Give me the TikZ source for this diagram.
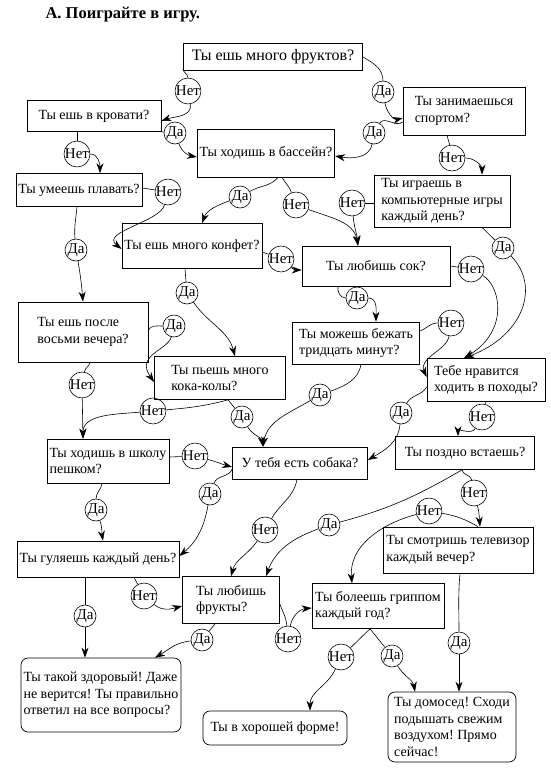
\documentclass[tikz,border=0pt]{standalone}
\usepackage{fontspec}
\setmainfont{Liberation Serif}
\usetikzlibrary{arrows.meta}
\begin{document}
\frenchspacing
\begin{tikzpicture}[x=1pt,y=1pt,
  box/.style={draw, line width=0.7pt, inner sep=2.5pt, font=\fontsize{14}{16.5}\selectfont, align=center},
  lbox/.style={box, align=left},
  rbox/.style={box, rounded corners=7pt, align=left},
  lab/.style={draw, circle, line width=0.6pt, inner sep=0pt, minimum size=22pt, font=\fontsize{15}{15}\selectfont},
  ln/.style={line width=0.6pt},
  arr/.style={ln, -{Stealth[length=10pt,width=7pt]}},
]
\useasboundingbox (0,0) rectangle (550,-774);
\node[font=\bfseries\fontsize{16.5}{19}\selectfont, anchor=west] (T) at (42,-15) {А. Поиграйте в игру.};

% boxes
\node[box, minimum width=179pt, minimum height=27pt, font=\fontsize{16}{18}\selectfont] (F) at (273,-57) {Ты ешь много фруктов?};
\node[box, minimum width=134pt, minimum height=31pt] (K) at (94,-116) {Ты ешь в кровати?};
\node[lbox, minimum width=122pt, minimum height=48pt] (S) at (464,-111) {Ты занимаешься\\спортом?};
\node[box, minimum width=132pt, minimum height=48pt] (B) at (266,-153) {Ты ходишь в бассейн?};
\node[box, minimum width=122pt, minimum height=33pt] (P) at (79,-190) {Ты умеешь плавать?};
\node[lbox, minimum width=136pt, minimum height=52pt] (C) at (442,-201) {Ты играешь в\\компьютерные игры\\каждый день?};
\node[box, minimum width=137pt, minimum height=45pt] (KO) at (192,-246) {Ты ешь много конфет?};
\node[box, minimum width=148pt, minimum height=40pt] (SOK) at (376,-266) {Ты любишь сок?};
\node[lbox, minimum width=130pt, minimum height=60pt] (V) at (83,-332) {Ты ешь после\\восьми вечера?};
\node[lbox, minimum width=127pt, minimum height=42pt] (R) at (356,-343) {Ты можешь бежать\\тридцать минут?};
\node[lbox, minimum width=131pt, minimum height=43pt] (KK) at (220,-378) {Ты пьешь много\\кока-колы?};
\node[lbox, minimum width=118pt, minimum height=43pt] (H) at (486,-380) {Тебе нравится\\ходить в походы?};
\node[lbox, minimum width=115pt, minimum height=44pt] (SH) at (108,-461) {Ты ходишь в школу\\пешком?};
\node[box, minimum width=135pt, minimum height=32pt] (SB) at (300,-463) {У тебя есть собака?};
\node[box, minimum width=139pt, minimum height=33pt] (PZ) at (465,-453) {Ты поздно встаешь?};
\node[box, minimum width=162pt, minimum height=36pt] (GU) at (98,-559) {Ты гуляешь каждый день?};
\node[lbox, minimum width=150pt, minimum height=46pt] (TV) at (458,-550) {Ты смотришь телевизор\\каждый вечер?};
\node[lbox, minimum width=97pt, minimum height=47pt] (FR) at (231,-600) {Ты любишь\\фрукты?};
\node[lbox, minimum width=132pt, minimum height=45pt] (GR) at (378,-606) {Ты болеешь гриппом\\каждый год?};
\node[rbox, minimum width=158pt, minimum height=74pt] (E1) at (101,-695) {Ты такой здоровый! Даже\\не верится! Ты правильно\\ответил на все вопросы?};
\node[rbox, minimum width=144pt, minimum height=34pt] (E2) at (275,-728) {Ты в хорошей форме!};
\node[rbox, minimum width=128pt, minimum height=70pt] (E3) at (452,-727) {Ты домосед! Сходи\\подышать свежим\\воздухом! Прямо\\сейчас!};

% labels
\node[lab] (n1) at (188,-91) {Нет};
\node[lab] (d1) at (383,-92) {Да};
\node[lab] (d2) at (175,-133) {Да};
\node[lab] (d3) at (374,-133) {Да};
\node[lab] (n2) at (77,-154) {Нет};
\node[lab] (n3) at (452,-158) {Нет};
\node[lab] (n4) at (168,-192) {Нет};
\node[lab] (d4) at (240,-197) {Да};
\node[lab] (n5) at (296,-205) {Нет};
\node[lab] (n6) at (352,-203) {Нет};
\node[lab] (d5) at (76,-250) {Да};
\node[lab] (d6) at (503,-248) {Да};
\node[lab] (n7) at (281,-259) {Нет};
\node[lab] (n8) at (471,-269) {Нет};
\node[lab] (d7) at (187,-293) {Да};
\node[lab] (d8) at (357,-298) {Да};
\node[lab] (n9) at (451,-323) {Нет};
\node[lab] (d9) at (174,-326) {Да};
\node[lab] (n10) at (82,-385) {Нет};
\node[lab] (d10) at (320,-395) {Да};
\node[lab] (n11) at (153,-411) {Нет};
\node[lab] (d11) at (242,-417) {Да};
\node[lab] (d12) at (401,-413) {Да};
\node[lab] (n12) at (482,-417) {Нет};
\node[lab] (n13) at (195,-456) {Нет};
\node[lab] (d13) at (210,-494) {Да};
\node[lab] (n14) at (474,-493) {Нет};
\node[lab] (d14) at (96,-510) {Да};
\node[lab] (n15) at (429,-511) {Нет};
\node[lab] (d15) at (329,-525) {Да};
\node[lab] (n16) at (265,-530) {Нет};
\node[lab] (n17) at (144,-596) {Нет};
\node[lab] (d16) at (85,-616) {Да};
\node[lab] (d17) at (202,-640) {Да};
\node[lab] (n18) at (288,-639) {Нет};
\node[lab] (d18) at (459,-643) {Да};
\node[lab] (n19) at (341,-657) {Нет};
\node[lab] (d19) at (392,-656) {Да};

% edges
\draw[ln] ([yshift=3pt]F.south west) to[out=-110,in=90] (n1);
\draw[arr] (n1) to[out=-80,in=20] ([yshift=-5pt]K.east);
\draw[ln] (F.east) to[out=-30,in=90] (d1);
\draw[arr] (d1) to[out=-80,in=195] ([yshift=-7pt]S.west);
\draw[ln] (K.south east) -- (d2);
\draw[arr] (d2) to[out=-70,in=170] ([yshift=-4pt]B.west);
\draw[ln] ([yshift=-11pt]S.west) to[out=-140,in=60] (d3);
\draw[arr] (d3) to[out=-100,in=-10] ([yshift=-3pt]B.east);
\draw[ln] ([xshift=-17pt]K.south) -- (n2);
\draw[arr] (n2) to[out=0,in=90] ([xshift=21pt]P.north);
\draw[ln] ([xshift=-17pt]S.south) to[out=-80,in=100] (n3);
\draw[arr] (n3) to[out=0,in=90] ([xshift=40pt]C.north);
\draw[ln] ([yshift=2pt]P.east) -- (n4);
\draw[arr] (n4) .. controls (160,-222) and (100,-232) .. ([yshift=-3pt]KO.west);
\draw[ln] ([xshift=-2pt]P.south) to[out=-95,in=95] (d5);
\draw[arr] (d5) to[out=-80,in=95] (V.north);
\draw[ln] ([xshift=12pt]B.south) to[out=-130,in=30] (d4);
\draw[arr] (d4) to[out=-160,in=70] ([xshift=10pt]KO.north);
\draw[ln] ([xshift=16pt]B.south) to[out=-60,in=110] (n5);
\draw[arr] (n5) to[out=-20,in=100] ([xshift=-18pt]SOK.north);
\draw[ln] ([yshift=-2pt]C.west) -- (n6);
\draw[arr] (n6) to[out=-85,in=95] ([xshift=-18pt]SOK.north);
\draw[ln] ([yshift=-6pt]KO.east) -- (n7);
\draw[arr] (n7) to[out=-40,in=180] ([yshift=-4pt]SOK.west);
\draw[ln] ([xshift=-7pt]KO.south) to[out=-85,in=95] (d7);
\draw[arr] (d7) to[out=-55,in=105] ([xshift=15pt]KK.north);
\draw[ln] ([xshift=-38pt]SOK.south) to[out=-100,in=180] (d8);
\draw[arr] (d8) to[out=0,in=90] ([xshift=20pt]R.north);
\draw[ln] (SOK.east) -- (n8);
\draw[arr] (n8) .. controls (500,-285) and (510,-330) .. ([xshift=-22pt]H.north);
\draw[ln] ([xshift=40pt]C.south) -- (d6);
\draw[arr] (d6) .. controls (540,-285) and (525,-335) .. ([xshift=-22pt]H.north);
\draw[ln] ([yshift=12pt]R.east) to[out=20,in=180] (n9);
\draw[arr] (n9) .. controls (447,-350) and (418,-358) .. ([yshift=3pt]H.west);
\draw[ln] ([yshift=2pt]V.east) to[out=60,in=180] (d9);
\draw[arr] (d9) .. controls (168,-350) and (135,-355) .. ([yshift=-4pt]KK.west);
\draw[ln] ([xshift=7pt]V.south) to[out=-100,in=80] (n10);
\draw[arr] (n10) -- ([xshift=-25pt]SH.north);
\draw[ln] ([xshift=8pt]KK.south) to[out=-165,in=5] (n11);
\draw[arr] (n11) to[out=185,in=90] ([xshift=-25pt]SH.north);
\draw[ln] ([xshift=8pt]KK.south) -- (d11);
\draw[arr] (d11) to[out=-60,in=100] ([xshift=-37pt]SB.north);
\draw[ln] ([xshift=5pt]R.south) to[out=-100,in=20] (d10);
\draw[arr] (d10) to[out=210,in=80] ([xshift=-37pt]SB.north);
\draw[ln] ([yshift=-7pt]H.west) to[out=-120,in=60] (d12);
\draw[arr] (d12) to[out=-95,in=30] ([yshift=3pt]SB.east);
\draw[ln] (H.south) -- (n12);
\draw[arr] (n12) to[out=-120,in=90] ([xshift=-7pt]PZ.north);
\draw[ln] ([yshift=4pt]SH.east) -- (n13);
\draw[arr] (n13) to[out=-15,in=165] ([yshift=-4pt]SB.west);
\draw[ln] ([yshift=-6pt]SB.west) to[out=-110,in=70] (d13);
\draw[arr] (d13) to[out=-100,in=40] ([yshift=3pt]GU.east);
\draw[ln] ([xshift=-6pt]SH.south) to[out=-95,in=90] (d14);
\draw[arr] (d14) to[out=-70,in=100] ([xshift=5pt]GU.north);
\draw[ln] ([xshift=-3pt]SB.south) to[out=-100,in=60] (n16);
\draw[arr] (n16) to[out=-125,in=75] (FR.north);
\draw[ln] ([xshift=-3pt]PZ.south) to[out=-150,in=15] (d15);
\draw[arr] (d15) to[out=200,in=70] ([xshift=35pt]FR.north);
\draw[ln] ([xshift=-3pt]PZ.south) to[out=-85,in=100] (n14);
\draw[arr] (n14) to[out=-75,in=95] ([xshift=22pt]TV.north);
\draw[ln] ([xshift=20pt]TV.north) to[out=150,in=-10] (n15);
\draw[arr] (n15) to[out=195,in=95] ([xshift=-26pt]GR.north);
\draw[ln] ([xshift=-13pt]GU.south) -- (d16);
\draw[arr] (d16) -- ([xshift=-16pt]E1.north);
\draw[ln] ([xshift=36pt]GU.south) -- (n17);
\draw[arr] (n17) to[out=-40,in=195] ([yshift=-6pt]FR.west);
\draw[ln] ([xshift=-16pt]FR.south) -- (d17);
\draw[arr] (d17) to[out=185,in=30] ([xshift=54pt]E1.north);
\draw[ln] ([yshift=-4pt]FR.east) to[out=-70,in=95] (n18);
\draw[arr] (n18) to[out=80,in=185] ([yshift=-2pt]GR.west);
\draw[ln] ([xshift=-8pt]GR.south) -- (n19);
\draw[arr] (n19) to[out=-115,in=90] ([xshift=35pt]E2.north);
\draw[ln] ([xshift=-8pt]GR.south) -- (d19);
\draw[arr] (d19) to[out=-60,in=100] ([xshift=-37pt]E3.north);
\draw[ln] ([xshift=2pt]TV.south) to[out=-95,in=90] (d18);
\draw[arr] (d18) -- ([xshift=7pt]E3.north);
\end{tikzpicture}
\end{document}
